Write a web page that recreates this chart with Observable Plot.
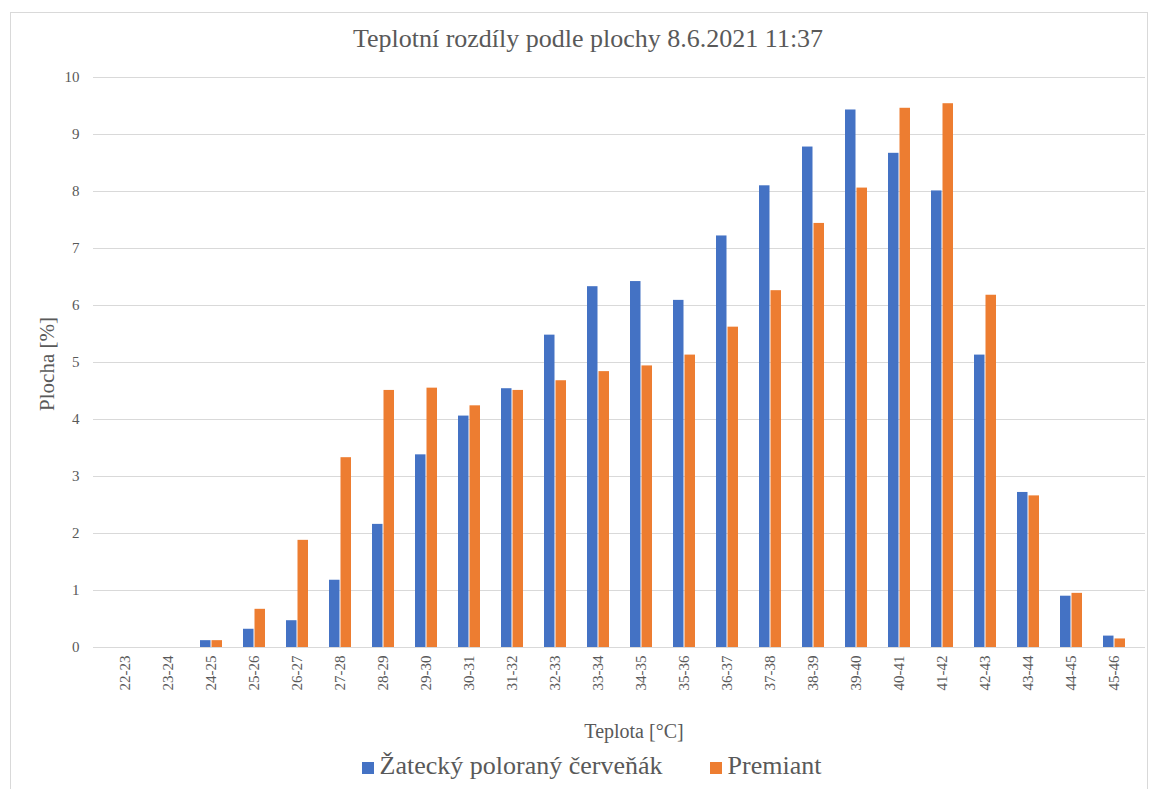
<!DOCTYPE html>
<html><head><meta charset="utf-8">
<script src="https://cdn.jsdelivr.net/npm/d3@7"></script>
<script src="https://cdn.jsdelivr.net/npm/@observablehq/plot@0.6"></script>
<style>
html,body{margin:0;padding:0;background:#fff;}
#wrap{position:relative;width:1160px;height:789px;overflow:hidden;font-family:'Liberation Serif','DejaVu Serif',serif;color:#595959;}
#border{position:absolute;left:10px;top:12px;width:1138px;height:800px;border:1px solid #d9d9d9;box-sizing:border-box;}
#title{position:absolute;left:0;width:1176px;top:24px;text-align:center;font-size:26px;white-space:nowrap;}
#legend{position:absolute;left:0;width:1183px;top:751px;display:flex;justify-content:center;align-items:baseline;font-size:26px;white-space:nowrap;}
#legend span.sw{display:inline-block;width:12px;height:12px;margin-right:6px;}
#legend span.item{display:inline-flex;align-items:baseline;}
#legend span.item + span.item{margin-left:47px;}
#xlabel{position:absolute;left:0;width:1268px;top:720px;text-align:center;font-size:20px;}
#ylabel{position:absolute;left:47px;top:364px;font-size:21px;transform:translate(-50%,-50%) rotate(-90deg);white-space:nowrap;}
#chart{position:absolute;left:0;top:0;}
</style></head>
<body>
<div id="wrap">
<div id="border"></div>
<div id="chart"></div>
<div id="title">Teplotní rozdíly podle plochy 8.6.2021 11:37</div>
<div id="ylabel">Plocha [%]</div>
<div id="xlabel">Teplota [°C]</div>
<div id="legend"></div>
</div>
<script>
const categories = ["22-23","23-24","24-25","25-26","26-27","27-28","28-29","29-30","30-31","31-32","32-33","33-34","34-35","35-36","36-37","37-38","38-39","39-40","40-41","41-42","42-43","43-44","44-45","45-46"];
const seriesNames = ["Žatecký poloraný červeňák","Premiant"];
const zatecky = [0,0,0.12,0.32,0.47,1.18,2.16,3.38,4.06,4.54,5.48,6.33,6.42,6.09,7.22,8.10,8.78,9.43,8.67,8.01,5.13,2.72,0.90,0.20];
const premiant = [0,0,0.12,0.67,1.88,3.33,4.51,4.55,4.24,4.51,4.68,4.84,4.94,5.13,5.62,6.26,7.44,8.06,9.46,9.54,6.18,2.66,0.95,0.15];
const yTicks = [0,1,2,3,4,5,6,7,8,9,10];
const colors = ["#4472C4","#ED7D31"];

const dataA = categories.map((c,i)=>({cat:c, value:zatecky[i]}));
const dataB = categories.map((c,i)=>({cat:c, value:premiant[i]}));

const chart = Plot.plot({
  width:1160, height:789,
  marginTop:77, marginBottom:142, marginLeft:93, marginRight:15,
  style:{fontFamily:"'Liberation Serif','DejaVu Serif',serif", color:"#595959", background:"transparent"},
  x:{domain:categories, paddingInner:0.5, paddingOuter:0.25},
  y:{domain:[0,10]},
  marks:[
    Plot.gridY(yTicks,{stroke:"#d9d9d9", strokeOpacity:1, strokeWidth:1}),
    Plot.axisY({ticks:yTicks, tickSize:0, tickPadding:14, fontSize:15, label:null}),
    Plot.axisX({tickSize:0, tickPadding:8, tickRotate:-90, fontSize:15, label:null}),
    Plot.barY(dataA,{x:"cat", y:"value", fill:colors[0], insetRight:11.5}),
    Plot.barY(dataB,{x:"cat", y:"value", fill:colors[1], insetLeft:11.5}),
    Plot.ruleY([0],{stroke:"#d9d9d9", strokeWidth:1.2})
  ]
});
document.getElementById("chart").appendChild(chart);

const leg = document.getElementById("legend");
seriesNames.forEach((n,i)=>{
  const item = document.createElement("span"); item.className="item";
  const sw = document.createElement("span"); sw.className="sw"; sw.style.background=colors[i];
  item.appendChild(sw); item.appendChild(document.createTextNode(n));
  leg.appendChild(item);
});
</script>
</body></html>
